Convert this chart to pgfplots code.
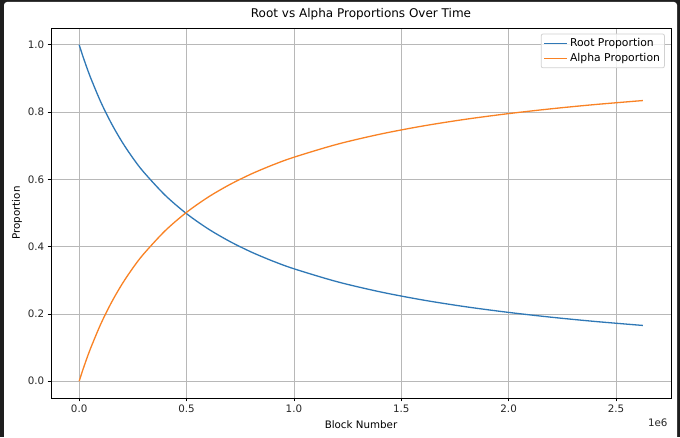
\documentclass[border=0pt]{standalone}
\usepackage{pgfplots}
\pgfplotsset{compat=1.18}
\usepackage{fontspec}
\setmainfont{DejaVu Sans}
\definecolor{mplblue}{HTML}{2F78B6}
\definecolor{mplorange}{HTML}{F98224}
\definecolor{gridgray}{HTML}{B8B8B8}
\definecolor{framedark}{HTML}{1E1E1E}
\begin{document}
\begin{tikzpicture}
\path[use as bounding box] (0pt,0pt) rectangle (680pt,437pt);
\fill[framedark] (0pt,0pt) rectangle (680pt,437pt);
\fill[white,rounded corners=3pt] (4pt,-5pt) rectangle (677pt,435pt);
\begin{axis}[
  at={(51pt,39pt)}, anchor=south west,
  scale only axis, width=620pt, height=370pt,
  xmin=-0.13125, xmax=2.75625, ymin=-0.05, ymax=1.05,
  xtick={0,0.5,1,1.5,2,2.5}, ytick={0,0.2,0.4,0.6,0.8,1.0},
  /pgf/number format/.cd, fixed, fixed zerofill, precision=1, assume math mode=true,
  /pgfplots/.cd,
  tick label style={font=\fontsize{10.3}{12}\selectfont, text=black!85},
  tick align=outside, tick pos=left,
  major tick length=3.3pt,
  tick style={black, line width=0.75pt},
  axis line style={black, line width=0.75pt},
  grid=major, major grid style={gridgray, line width=0.75pt},
  title={Root vs Alpha Proportions Over Time},
  title style={font=\fontsize{12}{14}\selectfont, yshift=-2pt},
  xlabel={Block Number}, ylabel={Proportion},
  label style={font=\fontsize{10.3}{12}\selectfont},
  xlabel style={yshift=-1pt},
  ylabel style={yshift=-1pt},
  legend style={at={(0.99,0.985)}, anchor=north east, draw=black!18, rounded corners=2pt,
    fill=white, fill opacity=0.8, text opacity=1, font=\fontsize{10.8}{12.8}\selectfont,
    inner sep=2.5pt, row sep=1.5pt, line width=0.75pt},
  legend cell align=left,
  legend image code/.code={\draw[#1, line width=1.4pt] (0pt,0pt) -- (23pt,0pt);},
  clip=false,
]
\addplot[mplblue, line width=1.3pt, smooth] coordinates {
(0,1.0000) (0.02,0.9608) (0.05,0.9075) (0.1,0.8308) (0.15,0.7663) (0.2,0.7111)
(0.25,0.6635) (0.3,0.6220) (0.4,0.5530) (0.5,0.4980) (0.6,0.4531) (0.7,0.4159)
(0.8,0.3844) (0.9,0.3575) (1.0,0.3342) (1.2,0.2959) (1.4,0.2658) (1.6,0.2414)
(1.8,0.2213) (2.0,0.2045) (2.2,0.1901) (2.4,0.1777) (2.625,0.1657)
};
\addlegendentry{Root Proportion}
\addplot[mplorange, line width=1.3pt, smooth] coordinates {
(0,0.0000) (0.02,0.0392) (0.05,0.0925) (0.1,0.1692) (0.15,0.2337) (0.2,0.2889)
(0.25,0.3365) (0.3,0.3780) (0.4,0.4470) (0.5,0.5020) (0.6,0.5469) (0.7,0.5841)
(0.8,0.6156) (0.9,0.6425) (1.0,0.6658) (1.2,0.7041) (1.4,0.7342) (1.6,0.7586)
(1.8,0.7787) (2.0,0.7955) (2.2,0.8099) (2.4,0.8223) (2.625,0.8343)
};
\addlegendentry{Alpha Proportion}
\node[anchor=east, font=\fontsize{10.3}{12}\selectfont, text=black!85] at ([yshift=-25pt]rel axis cs:1,0) {1e6};
\end{axis}
\end{tikzpicture}
\end{document}
